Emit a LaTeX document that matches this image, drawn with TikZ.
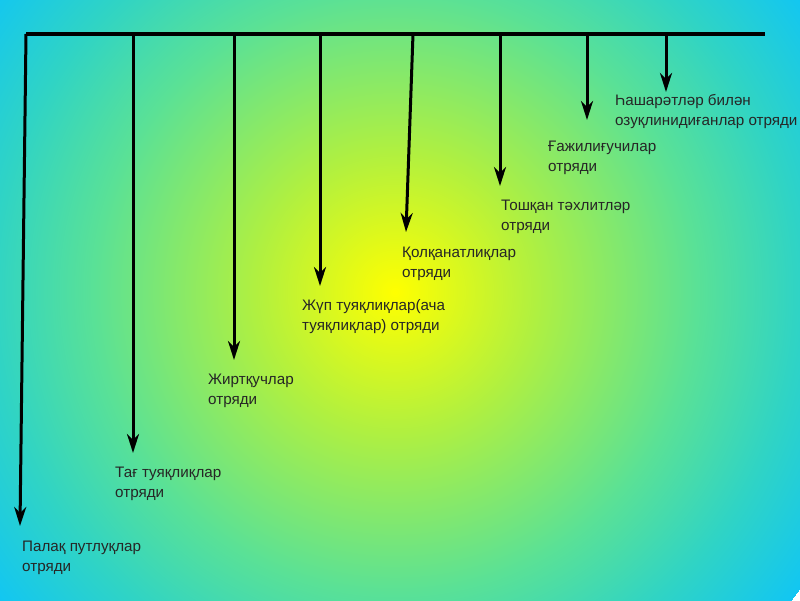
\documentclass[tikz,border=0pt]{standalone}
\usepackage{fontspec}
\setmainfont{Liberation Sans}
\usetikzlibrary{arrows.meta}
\definecolor{bgCore}{HTML}{FFFF00}
\definecolor{bgLime}{HTML}{B0F040}
\definecolor{bgGreen}{HTML}{5AE196}
\definecolor{bgTeal}{HTML}{30D4C4}
\definecolor{bgCyan}{HTML}{12C6F2}
\pgfdeclareradialshading{meadow}{\pgfpoint{0bp}{0bp}}{%
  color(0bp)=(bgCore); color(140bp)=(bgLime); color(300bp)=(bgGreen);
  color(400bp)=(bgTeal); color(500bp)=(bgCyan)}
\newcommand{\ordfont}{\fontsize{15.2}{19.5}\selectfont}

\begin{document}
\begin{tikzpicture}[x=1pt, y=-1pt,
    bar/.style={line width=3.5pt},
    branch/.style={line width=3pt, -{Stealth[length=19pt, width=12pt, inset=6pt]}},
    ordname/.style={anchor=base west, align=left, inner sep=0pt,
                    font=\ordfont, text=black!85},
  ]
    \useasboundingbox (0,0) rectangle (800,600);
    \begin{scope}
      \clip (0,0) rectangle (800,600);
      \node[inner sep=0pt] (glow) at (395,292) {\pgfuseshading{meadow}};
    \end{scope}

    % top bar and the eight branches
    \coordinate (barL) at (26,34);
    \coordinate (barR) at (765,34);
    \draw[bar] (barL) -- (barR);
    \foreach \n/\xa/\xb/\yb in {1/26/20/526, 2/133/133/453, 3/234/234/360,
        4/320/320/286, 5/413/406/232, 6/500/500/186, 7/587/587/120, 8/666/666/92}{
      \coordinate (top\n) at (\xa,34);
      \coordinate (tip\n) at (\xb,\yb);
      \draw[branch] (top\n) -- (tip\n);
    }

    % base is the last line's baseline
    \node[ordname] (ord1) at (22,571) {Палақ путлуқлар\\отряди};
    \node[ordname] (ord2) at (115,497) {Тағ туяқлиқлар\\отряди};
    \node[ordname] (ord3) at (208,404) {Жиртқучлар\\отряди};
    \node[ordname] (ord4) at (302,330) {Жүп туяқлиқлар(ача\\туяқлиқлар) отряди};
    \node[ordname] (ord5) at (402,277) {Қолқанатлиқлар\\отряди};
    \node[ordname] (ord6) at (501,230) {Тошқан тәхлитләр\\отряди};
    \node[ordname] (ord7) at (548,171) {Ғажилиғучилар\\отряди};
    \node[ordname] (ord8) at (615,125) {Һашарәтләр билән\\озуқлинидиғанлар отряди};
  \end{tikzpicture}
\end{document}
